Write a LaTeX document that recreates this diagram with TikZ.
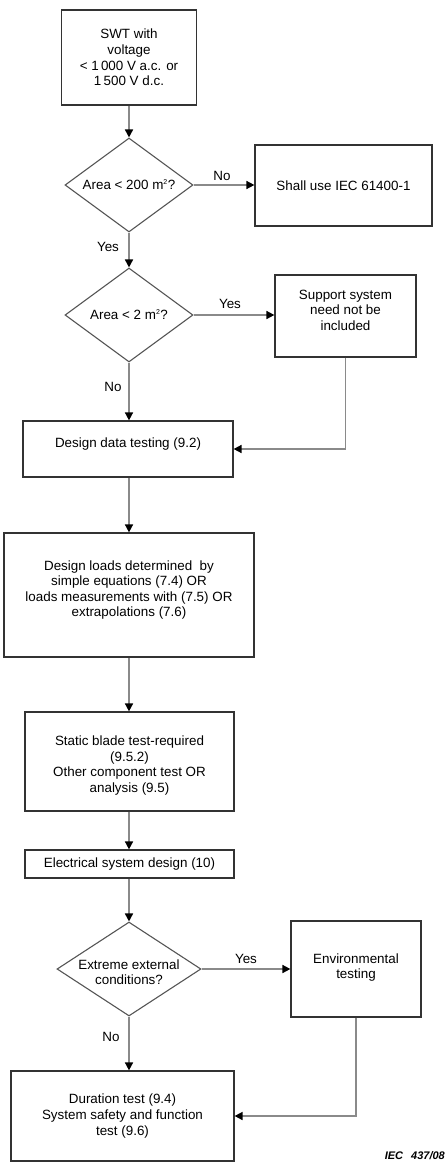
\documentclass[tikz,border=0pt]{standalone}
\usepackage{fontspec}
\setmainfont{Liberation Sans}
\usetikzlibrary{shapes.geometric,arrows.meta}
\definecolor{boxline}{HTML}{333333}
\definecolor{dialine}{HTML}{555555}
\definecolor{conline}{HTML}{8A8A8A}
\begin{document}
\begin{tikzpicture}[x=1pt,y=-1pt,
  every node/.style={font=\fontsize{13.4}{15.6}\selectfont},
  box/.style={draw=boxline, line width=1.2pt, rectangle, inner sep=0pt, align=center},
  dia/.style={draw=dialine, line width=1.1pt, diamond, inner sep=0pt, align=center},
  conn/.style={draw=conline, line width=1.6pt, -{Triangle[length=8pt,width=8pt,fill=black,color=black]}},
  lbl/.style={inner sep=0pt}]
\useasboundingbox (0,0) rectangle (447,1162);
% boxes and decisions
\node[box, minimum width=135, minimum height=95] (b1) at (129,57.5)
  {SWT with\\voltage\\< 1\,000 V a.c. or\\1\,500 V d.c.};
\node[dia, minimum width=128, minimum height=94] (d1) at (129,185) {};
\node[inner sep=0pt] (t1) at (d1.center) {Area < 200 m\textsuperscript{\scriptsize 2}?};
\node[box, minimum width=177, minimum height=81] (b2) at (343.5,185.5) {Shall use IEC 61400-1};
\node[dia, minimum width=128, minimum height=94] (d2) at (129,315) {};
\node[inner sep=0pt] (t2) at (d2.center) {Area < 2 m\textsuperscript{\scriptsize 2}?};
\node[box, minimum width=141, minimum height=82] (b3) at (345.5,316) {};
\node[inner sep=0pt, align=center] (t3) at (345.5,310) {Support system\\need not be\\included};
\node[box, minimum width=210, minimum height=56] (b4) at (128,449) {};
\node[inner sep=0pt] (t4) at (128,444) {Design data testing (9.2)};
\node[box, minimum width=250, minimum height=124] (b5) at (129,595) {};
\node[inner sep=0pt, align=center] (t5) at (129,590)
  {Design loads determined \ by\\simple equations (7.4) OR\\loads measurements with (7.5) OR\\extrapolations (7.6)};
\node[box, minimum width=209, minimum height=99] (b6) at (129.5,761.5) {};
\node[inner sep=0pt, align=center] (t6) at (129.5,765.5)
  {Static blade test-required\\(9.5.2)\\Other component test OR\\analysis (9.5)};
\node[box, minimum width=209, minimum height=28] (b7) at (129.5,864) {Electrical system design (10)};
\node[dia, minimum width=144, minimum height=94] (d3) at (129,969) {};
\node[inner sep=0pt, align=center] (t7) at (129,972) {Extreme external\\conditions?};
\node[box, minimum width=130, minimum height=96] (b8) at (356,969) {};
\node[inner sep=0pt, align=center] (t8) at (356,967.5) {Environmental\\testing};
\node[box, minimum width=223, minimum height=90] (b9) at (122.5,1116) {};
\node[inner sep=0pt, align=center] (t9) at (122.5,1116)
  {Duration test (9.4)\\System safety and function\\test (9.6)};
% connectors
\draw[conn] (b1.south) -- (d1.north);
\draw[conn] (d1.east) -- (d1.east -| b2.west);
\draw[conn] (d1.south) -- (d2.north);
\draw[conn] (d2.east) -- (d2.east -| b3.west);
\draw[conn] (d2.south) -- (d2.south |- b4.north);
\draw[conn] (b3.south) |- (b4.east);
\draw[conn] (b4.south -| d2.south) -- (d2.south |- b5.north);
\draw[conn] (d2.south |- b5.south) -- (d2.south |- b6.north);
\draw[conn] (d2.south |- b6.south) -- (d2.south |- b7.north);
\draw[conn] (d2.south |- b7.south) -- (d3.north);
\draw[conn] (d3.east) -- (d3.east -| b8.west);
\draw[conn] (b8.south) |- (b9.east);
\draw[conn] (d3.south) -- (d3.south |- b9.north);
% labels
\node[lbl] (l1) at (222,176) {No};
\node[lbl] (l2) at (108,247) {Yes};
\node[lbl] (l3) at (230,304) {Yes};
\node[lbl] (l4) at (113,387) {No};
\node[lbl] (l5) at (246,959) {Yes};
\node[lbl] (l6) at (111,1037) {No};
\node[lbl, anchor=base east, font=\fontsize{11}{13}\selectfont\itshape\bfseries] (iec) at (445,1159) {IEC\hspace{8pt}437/08};
\end{tikzpicture}
\end{document}
